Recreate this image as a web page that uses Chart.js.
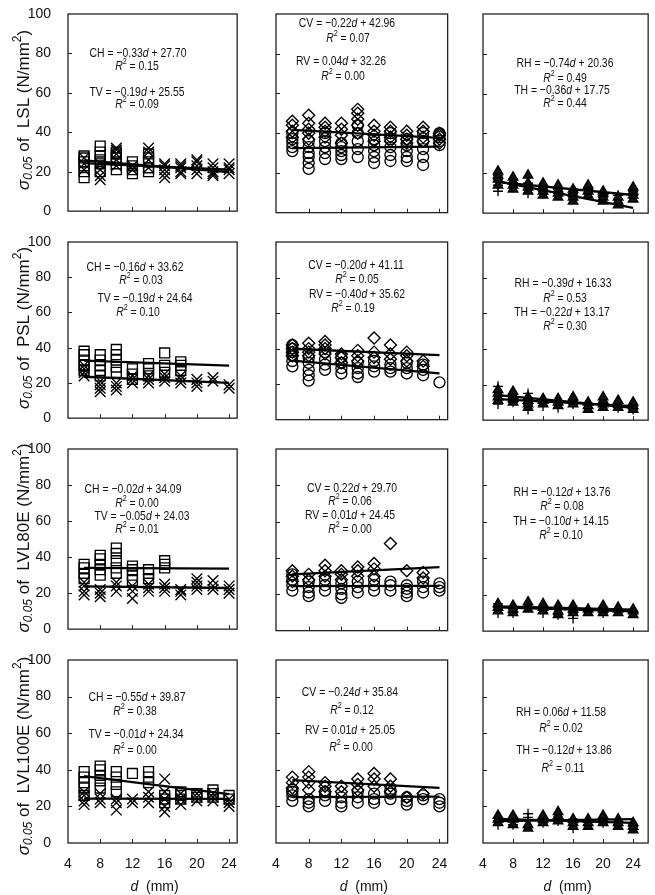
<!DOCTYPE html>
<html>
<head>
<meta charset="utf-8">
<script src="https://cdn.jsdelivr.net/npm/chart.js@4.4.0/dist/chart.umd.min.js"></script>
<style>
  body { margin: 0; background: #fff; width: 655px; height: 895px; position: relative; overflow: hidden; }
  canvas { position: absolute; }
</style>
</head>
<body>
<script>
// specimen thickness d (mm) for each group of points
const sizes = [6, 8, 10, 12, 14, 16, 18, 20, 22, 24];
const lineEnds = [6, 24];
const xTickValues = [4, 8, 12, 16, 20, 24];
const yTickValues = [0, 20, 40, 60, 80, 100];
const materials = ['LSL', 'PSL', 'LVL80E', 'LVL100E'];

// ---- LSL ----
const lslCH = [[17, 20, 23, 25, 27, 28], [20, 24, 26, 28, 30, 33], [21, 24, 27, 29, 30], [19, 21, 23, 25], [20, 22, 25, 27, 29], [], [], [], [], []];
const lslTV = [[21, 24, 27], [16, 18, 21, 24], [23, 26, 29, 31, 32], [21, 23], [22, 26, 30, 32], [17, 19, 21, 23, 24], [19, 20, 22, 23, 24], [19, 21, 23, 25, 26], [18, 19, 20, 22, 24], [19, 21, 22, 24]];
const lslCV = [[38, 41, 44, 46], [37, 40, 42, 45, 49], [38, 41, 43, 45], [35, 39, 42, 45], [40, 44, 47, 50, 52], [36, 39, 41, 44], [36, 38, 41, 43], [35, 37, 39, 41], [36, 38, 41, 43], [35, 37, 39, 40]];
const lslRV = [[31, 33, 35, 37, 40], [22, 25, 28, 30, 33, 36], [27, 30, 33, 36, 40], [27, 29, 31, 33, 35], [28, 32, 36, 40, 44], [25, 28, 31, 34, 37], [26, 29, 33, 37, 40], [26, 28, 31, 34, 37], [24, 28, 32, 36, 40], [34, 36, 38, 40]];
const lslRH = [[14, 17, 19, 21], [12, 14, 16, 18], [11, 13, 15, 19], [9, 11, 13, 15], [8, 10, 12, 14], [6, 8, 10, 12], [9, 11, 13, 14], [6, 8, 10, 11], [4, 6, 8], [7, 9, 11, 13]];
const lslTH = [[11, 14, 17, 19], [13, 15, 17], [10, 12, 15], [10, 11, 13], [10, 12], [8, 10, 12], [10, 12], [8, 10], [7, 9], [9, 11]];
const lslLines = { CH: [25.72, 19.78], TV: [24.41, 20.99], CV: [41.64, 37.68], RV: [32.50, 33.22], RH: [15.92, 2.60], TH: [15.59, 9.11] };

// ---- PSL ----
const pslCH = [[27, 30, 33, 36, 38], [24, 27, 30, 33, 36], [26, 29, 33, 36, 39], [22, 25, 28], [24, 28, 31], [26, 30, 37], [27, 30, 32], [], [], []];
const pslTV = [[24, 26, 28, 30], [15, 17, 19, 21], [16, 18, 20], [20, 22, 24], [20, 22, 24], [21, 23, 25], [20, 22, 24], [18, 20, 22], [21, 23], [17, 19]];
const pslCV = [[36, 38, 40, 42], [36, 38, 40, 43], [37, 40, 42, 44], [32, 35, 37], [33, 36, 39], [35, 38, 46], [34, 37, 42], [33, 36, 38], [30, 33], []];
const pslRV = [[30, 33, 36, 38, 40, 42], [22, 25, 28, 32, 35], [28, 31, 34, 38], [26, 29, 32, 35], [24, 26, 29, 32], [27, 30, 33], [27, 29, 31], [26, 29, 32], [25, 28, 31], [21]];
const pslRH = [[11, 13, 15, 17], [10, 12, 14, 16], [7, 9, 11, 13], [9, 11, 12], [8, 10, 12], [9, 11, 13], [6, 8, 10], [7, 9, 11, 13], [7, 9, 11], [6, 8, 10]];
const pslTH = [[9, 12, 16, 19], [10, 12], [6, 9, 12, 15], [8, 10], [7, 9, 11], [9, 11], [7, 9], [8, 10], [7, 9], [6, 8]];
const pslLines = { CH: [32.66, 29.78], TV: [23.50, 20.08], CV: [39.91, 36.31], RV: [33.22, 26.02], RH: [13.99, 6.97], TH: [11.85, 7.89] };

// ---- LVL80E ----
const l80CH = [[28, 31, 34, 36], [30, 33, 36, 39, 41], [31, 34, 38, 42, 45], [27, 30, 33, 35], [28, 31, 33], [34, 36, 38], [], [], [], []];
const l80TV = [[19, 21, 24, 26], [18, 20, 22], [21, 24, 26], [17, 21, 24], [21, 23, 25], [21, 23, 25], [19, 21, 22], [22, 24, 26, 28], [22, 24, 27], [20, 22, 24]];
const l80CV = [[27, 30, 33], [28, 31], [30, 33, 36], [28, 31, 33], [30, 33, 35], [30, 34, 37], [48], [33], [29, 32], []];
const l80RV = [[22, 25, 28, 31], [19, 21, 24, 27], [22, 25, 28], [18, 20, 23, 26], [21, 24, 27], [22, 25, 28], [22, 25, 27], [19, 21, 23, 25], [21, 24, 27], [22, 24, 26]];
const l80RH = [[11, 13, 15], [10, 12, 14], [12, 14, 16], [11, 13, 15], [9, 11, 14], [10, 12, 14], [10, 12], [10, 12, 14], [10, 12, 13], [9, 11, 12]];
const l80TH = [[10, 13, 15], [10, 12], [13], [10, 12], [9, 12], [7, 10, 13], [11], [10, 13], [11], [10]];
const l80Lines = { CH: [33.97, 33.61], TV: [23.73, 22.83], CV: [31.02, 34.98], RV: [24.51, 24.69], RH: [13.04, 10.88], TH: [13.55, 11.75] };

// ---- LVL100E ----
const l100CH = [[26, 30, 33, 36, 39], [30, 34, 37, 40, 42], [28, 32, 36, 39], [38], [33, 36, 39], [22, 24, 26], [24, 26, 28], [25, 27], [25, 27, 29], [24, 26]];
const l100TV = [[21, 23, 26, 28], [22, 24, 27], [18, 22, 24], [22, 24], [22, 25, 28], [17, 20, 24, 28, 35], [21, 24, 27], [23, 25, 27], [23, 25, 27], [20, 22, 24]];
const l100CV = [[30, 33, 36], [29, 33, 36, 39], [28, 31, 33], [28, 31], [29, 32, 35], [31, 35, 38], [28, 31, 35], [25], [27], []];
const l100RV = [[23, 26, 28, 29], [20, 22, 24], [23, 26, 28], [20, 22, 25], [22, 25, 28], [22, 24, 27], [24, 27, 29], [21, 23, 25], [24, 26], [20, 22, 24]];
const l100RH = [[11, 13, 15], [10, 13, 15], [8, 10], [11, 13, 15], [12, 15, 17], [9, 11, 13], [9, 11, 13], [11, 13, 15], [9, 11, 13], [7, 9, 11]];
const l100TH = [[10, 12], [10, 12], [14, 16], [11], [12, 14], [8, 11, 13], [10, 12], [11, 13], [10], [9]];
const l100Lines = { CH: [36.57, 26.67], TV: [24.28, 24.10], CV: [34.40, 30.08], RV: [25.11, 25.29], RH: [11.94, 13.02], TH: [13.14, 10.98] };

// regression labels, one list per panel
const eqText = [
  [['CH = −0.33*d* + 27.70', '*R*^2^ = 0.15', 'TV = −0.19*d* + 25.55', '*R*^2^ = 0.09'],
   ['CV = −0.22*d* + 42.96', '*R*^2^ = 0.07', 'RV = 0.04*d* + 32.26', '*R*^2^ = 0.00'],
   ['RH = −0.74*d* + 20.36', '*R*^2^ = 0.49', 'TH = −0.36*d* + 17.75', '*R*^2^ = 0.44']],
  [['CH = −0.16*d* + 33.62', '*R*^2^ = 0.03', 'TV = −0.19*d* + 24.64', '*R*^2^ = 0.10'],
   ['CV = −0.20*d* + 41.11', '*R*^2^ = 0.05', 'RV = −0.40*d* + 35.62', '*R*^2^ = 0.19'],
   ['RH = −0.39*d* + 16.33', '*R*^2^ = 0.53', 'TH = −0.22*d* + 13.17', '*R*^2^ = 0.30']],
  [['CH = −0.02*d* + 34.09', '*R*^2^ = 0.00', 'TV = −0.05*d* + 24.03', '*R*^2^ = 0.01'],
   ['CV = 0.22*d* + 29.70', '*R*^2^ = 0.06', 'RV = 0.01*d* + 24.45', '*R*^2^ = 0.00'],
   ['RH = −0.12*d* + 13.76', '*R*^2^ = 0.08', 'TH = −0.10*d* + 14.15', '*R*^2^ = 0.10']],
  [['CH = −0.55*d* + 39.87', '*R*^2^ = 0.38', 'TV = −0.01*d* + 24.34', '*R*^2^ = 0.00'],
   ['CV = −0.24*d* + 35.84', '*R*^2^ = 0.12', 'RV = 0.01*d* + 25.05', '*R*^2^ = 0.00'],
   ['RH = 0.06*d* + 11.58', '*R*^2^ = 0.02', 'TH = −0.12*d* + 13.86', '*R*^2^ = 0.11']]
];

// page positions of the label lines (centre x, centre y)
const eqPos = [
  [[[138, 53], [137, 66], [137, 92], [137, 104]], [[347, 23], [348, 38], [341, 61], [343, 76]], [[565, 63], [565, 78], [562, 90], [565, 103]]],
  [[[135, 267], [141, 280], [145, 298], [138, 312]], [[356, 265], [357, 279], [357, 294], [353, 308]], [[563, 283], [565, 298], [562, 312], [565, 326]]],
  [[[133, 489], [137, 503], [142, 516], [137, 529]], [[352, 488], [350, 501], [350, 515], [350, 529]], [[562, 492], [562, 506], [561, 521], [561, 535]]],
  [[[137, 697], [135, 711], [136, 734], [135, 750]], [[350, 692], [352, 710], [350, 730], [351, 747]], [[561, 712], [561, 728], [564, 750], [563, 768]]]
];

const groups = [
  [[lslCH, lslTV, lslLines.CH, lslLines.TV], [lslCV, lslRV, lslLines.CV, lslLines.RV], [lslRH, lslTH, lslLines.RH, lslLines.TH]],
  [[pslCH, pslTV, pslLines.CH, pslLines.TV], [pslCV, pslRV, pslLines.CV, pslLines.RV], [pslRH, pslTH, pslLines.RH, pslLines.TH]],
  [[l80CH, l80TV, l80Lines.CH, l80Lines.TV], [l80CV, l80RV, l80Lines.CV, l80Lines.RV], [l80RH, l80TH, l80Lines.RH, l80Lines.TH]],
  [[l100CH, l100TV, l100Lines.CH, l100Lines.TV], [l100CV, l100RV, l100Lines.CV, l100Lines.RV], [l100RH, l100TH, l100Lines.RH, l100Lines.TH]]
];

// layout
const colBox = [[68, 242], [276, 451], [483, 653]];
const rowBox = [[14, 214], [242, 421], [449, 632], [660, 843]];
const colXMax = [25, 25, 26];
const titleY = [110, 328, 538, 756];
const FONT = 'Arial, "Liberation Sans", Helvetica, sans-serif';
const INK = '#111';

const markers = [
  [{ style: 'rect', r: 7, fill: 'rgba(255,255,255,0)' }, { style: 'crossRot', r: 7.5, fill: 'rgba(255,255,255,0)' }],
  [{ style: 'rectRot', r: 6, fill: 'rgba(255,255,255,0)' }, { style: 'circle', r: 5.5, fill: 'rgba(255,255,255,0)' }],
  [{ style: 'triangle', r: 5.5, fill: '#111' }, { style: 'cross', r: 5, fill: 'rgba(255,255,255,0)' }]
];

function toPoints(list) {
  return list.flatMap((ys, i) => ys.map(y => ({ x: sizes[i], y })));
}

// text with *italic*, ^sup^ and _sub_ runs, centred on x
function richText(ctx, str, x, y, size, sx) {
  const parts = [];
  let it = false, sup = false, sub = false, buf = '';
  const push = () => { if (buf) parts.push({ t: buf, it, sup, sub }); buf = ''; };
  for (const ch of str) {
    if (ch === '*') { push(); it = !it; }
    else if (ch === '^') { push(); sup = !sup; }
    else if (ch === '_') { push(); sub = !sub; }
    else buf += ch;
  }
  push();
  const font = p => (p.it ? 'italic ' : '') + ((p.sup || p.sub) ? Math.round(size * 0.68) : size) + 'px ' + FONT;
  let w = 0;
  parts.forEach(p => { ctx.font = font(p); p.w = ctx.measureText(p.t).width; w += p.w; });
  ctx.save();
  ctx.translate(x, y);
  ctx.scale(sx, 1);
  ctx.fillStyle = INK;
  ctx.textAlign = 'left';
  ctx.textBaseline = 'middle';
  let cx = -w / 2;
  parts.forEach(p => {
    ctx.font = font(p);
    const dy = p.sup ? -size * 0.38 : p.sub ? size * 0.3 : 0;
    ctx.fillText(p.t, cx, dy);
    cx += p.w;
  });
  ctx.restore();
}

function framePlugin(r, c, left, top) {
  return {
    id: 'frame' + r + c,
    afterDraw(chart) {
      const ctx = chart.ctx;
      const a = chart.chartArea;
      const xs = chart.scales.x, ys = chart.scales.y;
      ctx.save();
      ctx.strokeStyle = '#222';
      ctx.lineWidth = 1.3;
      ctx.strokeRect(a.left, a.top, a.right - a.left, a.bottom - a.top);
      ctx.lineWidth = 1;
      ctx.beginPath();
      [20, 40, 60, 80].forEach(v => {
        const py = Math.round(ys.getPixelForValue(v)) + 0.5;
        ctx.moveTo(a.left, py); ctx.lineTo(a.left + 4, py);
      });
      [8, 12, 16, 20, 24].forEach(v => {
        const px = Math.round(xs.getPixelForValue(v)) + 0.5;
        ctx.moveTo(px, a.bottom); ctx.lineTo(px, a.bottom - 4);
      });
      ctx.stroke();
      ctx.restore();

      eqText[r][c].forEach((t, i) => {
        const [px, py] = eqPos[r][c][i];
        richText(ctx, t, px - left, py - top, 13, 0.8);
      });

      if (c === 0) {
        ctx.save();
        ctx.translate(24 - left, titleY[r] - top);
        ctx.rotate(-Math.PI / 2);
        richText(ctx, '*σ*_*0.05*_ of  ' + materials[r] + ' (N/mm^2^)', 0, 0, 17, 1);
        ctx.restore();
      }
      if (r === 3) {
        richText(ctx, '*d*  (mm)', (a.left + a.right) / 2 + 2, 887 - top, 14, 1);
      }
    }
  };
}

for (let r = 0; r < 4; r++) {
  for (let c = 0; c < 3; c++) {
    const [bx0, bx1] = colBox[c];
    const [by0, by1] = rowBox[r];
    const padL = c === 0 ? 68 : 12;
    const padR = c === 2 ? 2 : 4;
    const padT = 10;
    const padB = r === 3 ? 895 - by1 : 6;
    const left = bx0 - padL, top = by0 - padT;
    const cv = document.createElement('canvas');
    cv.width = padL + (bx1 - bx0) + padR;
    cv.height = padT + (by1 - by0) + padB;
    cv.style.left = left + 'px';
    cv.style.top = top + 'px';
    document.body.appendChild(cv);

    const [ptsA, ptsB, lineA, lineB] = groups[r][c];
    const [mA, mB] = markers[c];
    const lineSet = ys => ({
      data: lineEnds.map((x, i) => ({ x, y: ys[i] })),
      showLine: true, borderColor: '#000', borderWidth: 2.3, pointRadius: 0, order: 0
    });
    const pointSet = (list, m) => ({
      data: toPoints(list),
      showLine: false, pointStyle: m.style, pointRadius: m.r,
      borderColor: '#000', borderWidth: 1.35, backgroundColor: m.fill, order: 1
    });

    new Chart(cv, {
      type: 'scatter',
      data: {
        datasets: [lineSet(lineA), lineSet(lineB), pointSet(ptsA, mA), pointSet(ptsB, mB)]
      },
      plugins: [framePlugin(r, c, left, top)],
      options: {
        responsive: false,
        animation: false,
        devicePixelRatio: 1,
        layout: { padding: { top: padT, right: padR, left: 0, bottom: 0 } },
        plugins: { legend: { display: false }, tooltip: { enabled: false } },
        scales: {
          x: {
            type: 'linear', min: 4, max: colXMax[c],
            grid: { display: false, drawTicks: false },
            border: { display: false },
            afterBuildTicks: s => { s.ticks = xTickValues.map(v => ({ value: v })); },
            afterFit: s => { s.height = padB; s.paddingLeft = 0; s.paddingRight = 0; },
            ticks: { display: r === 3, padding: 13, maxRotation: 0, color: INK, font: { size: 14, family: FONT } }
          },
          y: {
            min: 0, max: 100,
            grid: { display: false, drawTicks: false },
            border: { display: false },
            afterBuildTicks: s => { s.ticks = yTickValues.map(v => ({ value: v })); },
            afterFit: s => { s.width = padL; s.paddingTop = 0; s.paddingBottom = 0; },
            ticks: { display: c === 0, padding: 17, color: INK, font: { size: 14, family: FONT } }
          }
        }
      }
    });
  }
}
</script>
</body>
</html>
